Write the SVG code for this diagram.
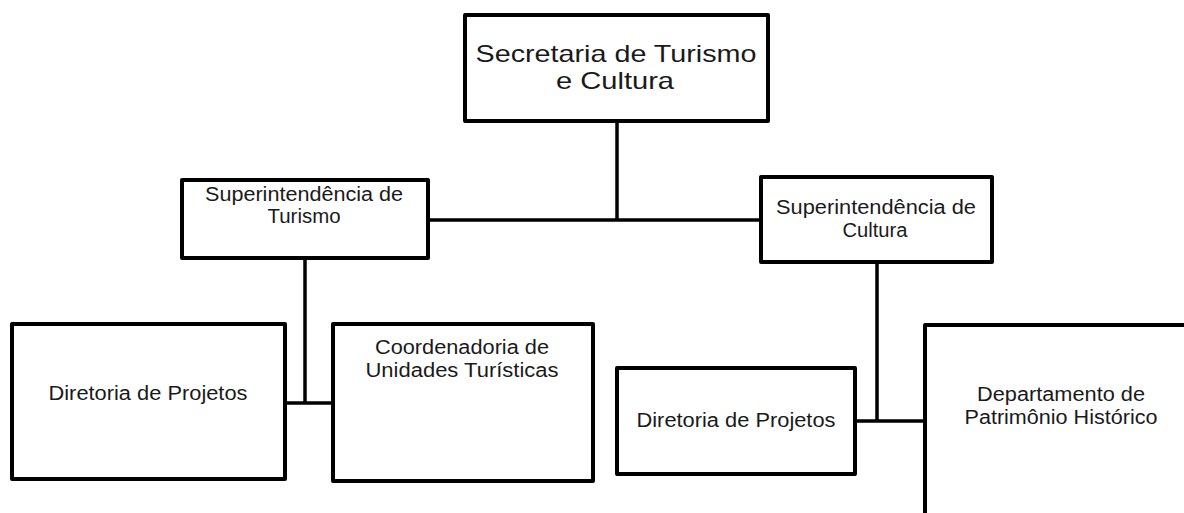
<svg xmlns="http://www.w3.org/2000/svg" width="1184" height="513" viewBox="0 0 1184 513">
<style>
.box{fill:#fff;stroke:#000;stroke-width:4;stroke-linejoin:round}
.ln{fill:none;stroke:#000;stroke-width:3.5;stroke-linecap:butt}
text{font-family:"Liberation Sans",Arial,sans-serif;font-size:20px;fill:#1a1a1a;text-anchor:middle}
.big{font-size:24px}
</style>
<rect width="1184" height="513" fill="#fff"/>
<g id="connectors">
<path class="ln" d="M617 121 V220 M428 220 H762"/>
<path class="ln" d="M305 258 V403 M285 403 H333"/>
<path class="ln" d="M877 262 V421 M855 421 H925"/>
</g>
<g id="secretaria">
<rect class="box" x="465" y="15" width="303" height="106"/>
<text class="big" x="616" y="62" textLength="281" lengthAdjust="spacingAndGlyphs">Secretaria de Turismo</text>
<text class="big" x="615" y="89" textLength="118" lengthAdjust="spacingAndGlyphs">e Cultura</text>
</g>
<g id="sup-turismo">
<rect class="box" x="182" y="180" width="246" height="78"/>
<text x="304" y="201" textLength="198" lengthAdjust="spacingAndGlyphs">Superintendência de</text>
<text x="304" y="223" textLength="73" lengthAdjust="spacingAndGlyphs">Turismo</text>
</g>
<g id="sup-cultura">
<rect class="box" x="761" y="177" width="231" height="85"/>
<text x="876" y="214" textLength="200" lengthAdjust="spacingAndGlyphs">Superintendência de</text>
<text x="875" y="237" textLength="65" lengthAdjust="spacingAndGlyphs">Cultura</text>
</g>
<g id="diretoria-turismo">
<rect class="box" x="12" y="324" width="273" height="155"/>
<text x="148" y="400" textLength="199" lengthAdjust="spacingAndGlyphs">Diretoria de Projetos</text>
</g>
<g id="coordenadoria">
<rect class="box" x="333" y="324" width="260" height="157"/>
<text x="462" y="354" textLength="174" lengthAdjust="spacingAndGlyphs">Coordenadoria de</text>
<text x="462" y="377" textLength="193" lengthAdjust="spacingAndGlyphs">Unidades Turísticas</text>
</g>
<g id="diretoria-cultura">
<rect class="box" x="617" y="368" width="238" height="106"/>
<text x="736" y="427" textLength="199" lengthAdjust="spacingAndGlyphs">Diretoria de Projetos</text>
</g>
<g id="departamento">
<rect class="box" x="925" y="325" width="272" height="200"/>
<text x="1061" y="401" textLength="168" lengthAdjust="spacingAndGlyphs">Departamento de</text>
<text x="1061" y="424" textLength="193" lengthAdjust="spacingAndGlyphs">Patrimônio Histórico</text>
</g>
</svg>
